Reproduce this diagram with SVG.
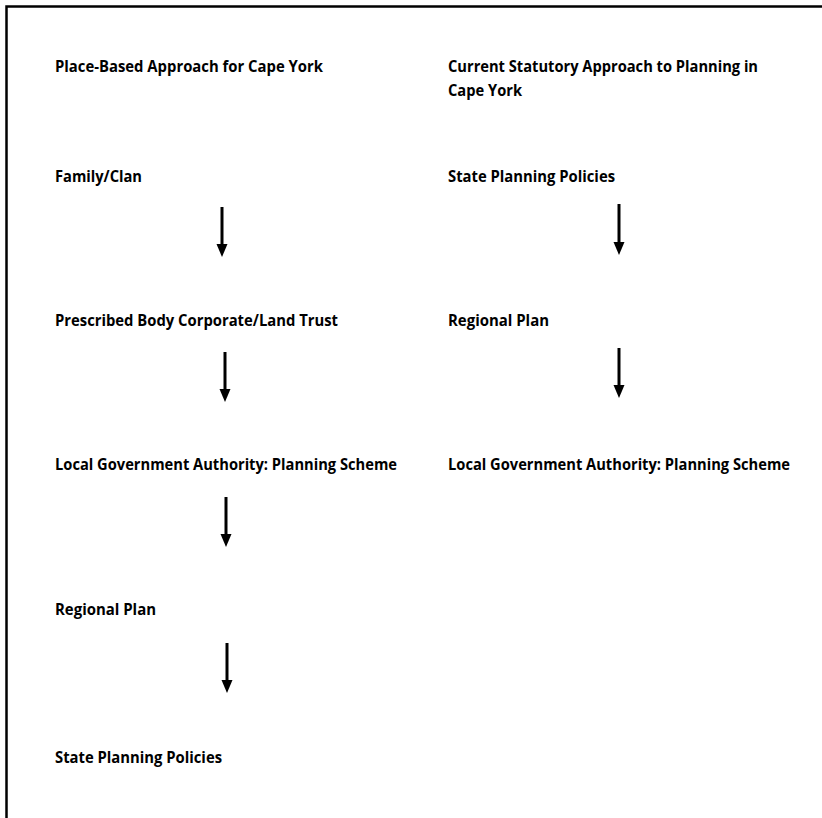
<svg xmlns="http://www.w3.org/2000/svg" width="822" height="818" viewBox="0 0 822 818">
<style>
text{font-family:"Open Sans","Noto Sans","Liberation Sans",sans-serif;font-weight:bold;font-size:16px;fill:#000}
.c{stroke:#000;stroke-width:3;fill:none}
.h{fill:#000}
</style>
<rect width="822" height="818" fill="#fff"/>
<path d="M6.5,818 V6.5 H822" stroke="#000" stroke-width="2.5" fill="none"/>
<g id="title-left"><text x="55" y="72" textLength="268" lengthAdjust="spacingAndGlyphs">Place-Based Approach for Cape York</text></g>
<g id="title-right"><text x="448" y="72" textLength="310" lengthAdjust="spacingAndGlyphs">Current Statutory Approach to Planning in</text><text x="448" y="96" textLength="74" lengthAdjust="spacingAndGlyphs">Cape York</text></g>
<g id="l1"><text x="55" y="182" textLength="87" lengthAdjust="spacingAndGlyphs">Family/Clan</text></g>
<g id="l2"><text x="55" y="326" textLength="283" lengthAdjust="spacingAndGlyphs">Prescribed Body Corporate/Land Trust</text></g>
<g id="l3"><text x="55" y="470" textLength="342" lengthAdjust="spacingAndGlyphs">Local Government Authority: Planning Scheme</text></g>
<g id="l4"><text x="55" y="615" textLength="101" lengthAdjust="spacingAndGlyphs">Regional Plan</text></g>
<g id="l5"><text x="55" y="763" textLength="167" lengthAdjust="spacingAndGlyphs">State Planning Policies</text></g>
<g id="r1"><text x="448" y="182" textLength="167" lengthAdjust="spacingAndGlyphs">State Planning Policies</text></g>
<g id="r2"><text x="448" y="326" textLength="101" lengthAdjust="spacingAndGlyphs">Regional Plan</text></g>
<g id="r3"><text x="448" y="470" textLength="342" lengthAdjust="spacingAndGlyphs">Local Government Authority: Planning Scheme</text></g>
<g id="connectors">
<path class="c" d="M222,207 V245"/><path class="h" d="M216.5,244 H227.5 L222,257 Z"/>
<path class="c" d="M225,352 V390"/><path class="h" d="M219.5,389 H230.5 L225,402 Z"/>
<path class="c" d="M226,497 V535"/><path class="h" d="M220.5,534 H231.5 L226,547 Z"/>
<path class="c" d="M227,643 V681"/><path class="h" d="M221.5,680 H232.5 L227,693 Z"/>
<path class="c" d="M619,204 V243"/><path class="h" d="M613.5,242 H624.5 L619,255 Z"/>
<path class="c" d="M619,348 V386"/><path class="h" d="M613.5,385 H624.5 L619,398 Z"/>
</g>
</svg>
